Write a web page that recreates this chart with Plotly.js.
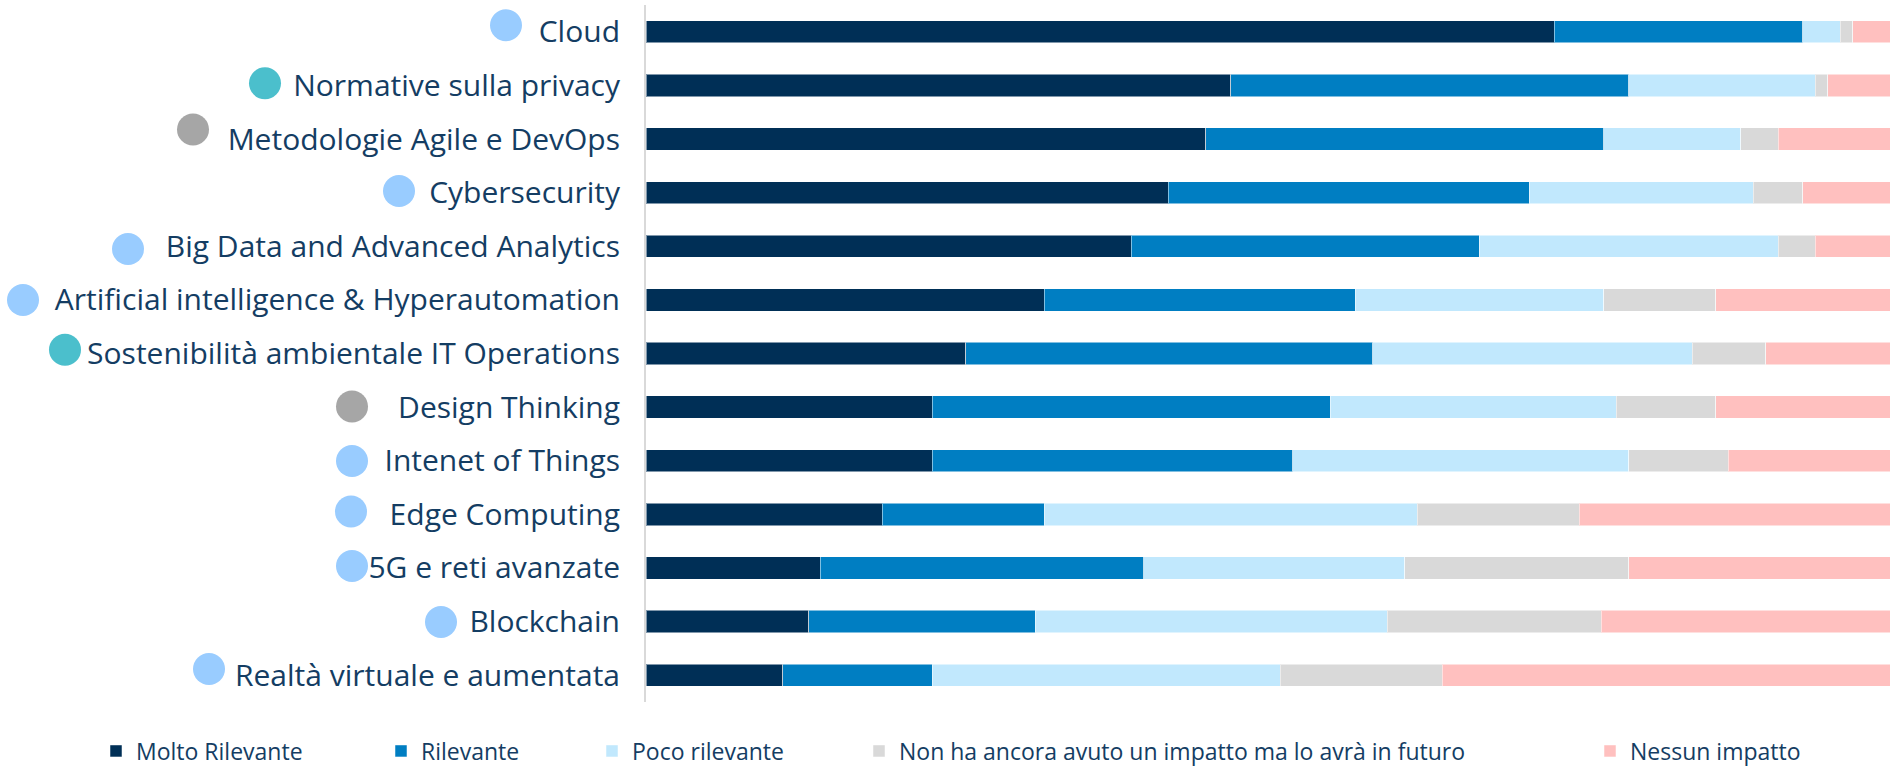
<!DOCTYPE html>
<html>
<head>
<meta charset="utf-8">
<script src="https://cdn.plot.ly/plotly-3.0.1.min.js"></script>
<style>
  html, body { margin: 0; padding: 0; background: #ffffff; }
  #chart { width: 1890px; height: 767px; }
</style>
</head>
<body>
<div id="chart"></div>
<script>
// ---- Data ----
const categories = [
  "Cloud",
  "Normative sulla privacy",
  "Metodologie Agile e DevOps",
  "Cybersecurity",
  "Big Data and Advanced Analytics",
  "Artificial intelligence & Hyperautomation",
  "Sostenibilità ambientale IT Operations",
  "Design Thinking",
  "Intenet of Things",
  "Edge Computing",
  "5G e reti avanzate",
  "Blockchain",
  "Realtà virtuale e aumentata"
];
const seriesNames = [
  "Molto Rilevante",
  "Rilevante",
  "Poco rilevante",
  "Non ha ancora avuto un impatto ma lo avrà in futuro",
  "Nessun impatto"
];
const moltoRilevante = [73, 47, 45, 42, 39, 32, 25.7, 23, 23, 19, 14, 13.1, 11];
const rilevante      = [20, 32, 32, 29, 28, 25, 32.7, 32, 29, 13, 26, 18.2, 12];
const pocoRilevante  = [3, 15, 11, 18, 24, 20, 25.7, 23, 27, 30, 21, 28.3, 28];
const nonAncora      = [1, 1, 3, 4, 3, 9, 5.9, 8, 8, 13, 18, 17.2, 13];
const nessunImpatto  = [3, 5, 9, 7, 6, 14, 10, 14, 13, 25, 21, 23.2, 36];
// category group of each technology (drives the dot colour)
const categoryGroup = ["tech","reg","method","tech","tech","tech","reg","method","tech","tech","tech","tech","tech"];

// ---- Styles ----
const seriesColors = ["#002f56", "#007ec2", "#c1e8fd", "#d9d9d9", "#ffc0bf"];
const groupColors = { tech: "#99ccff", reg: "#4bbfcc", method: "#a6a6a6" };
const textColor = "#143d63";

// ---- Layout geometry (pixels) ----
const W = 1890, H = 767;
const M = { l: 646, r: 0, t: 5, b: 65, autoexpand: false };
const plotW = W - M.l - M.r, plotH = H - M.t - M.b;
// decorative dot centres (pixels, in figure coordinates)
const dotPos = [
  [506, 25.3], [265, 83.3], [193, 129.5], [399, 191], [128, 249],
  [23, 300], [65, 349.7], [352, 406.5], [352, 461], [351, 511.5],
  [352, 566], [441, 622], [209, 669]
];
const dotR = 16;
const legendSymLeft = [113, 398, 609, 876, 1607];
const legendY = 751;

const allValues = [moltoRilevante, rilevante, pocoRilevante, nonAncora, nessunImpatto];
const traces = allValues.map((vals, i) => ({
  type: "bar",
  orientation: "h",
  name: seriesNames[i],
  x: vals,
  y: categories,
  marker: { color: seriesColors[i], line: { color: "rgba(255,255,255,0.5)", width: 1 } },
  legend: i === 0 ? "legend" : "legend" + (i + 1),
  hoverinfo: "x+name"
}));

function px2paperX(px) { return (px - M.l) / plotW; }
function px2paperY(py) { return (H - M.b - py) / plotH; }

const shapes = dotPos.map((p, i) => ({
  type: "circle",
  xref: "paper", yref: "paper",
  x0: px2paperX(p[0] - dotR), x1: px2paperX(p[0] + dotR),
  y0: px2paperY(p[1] + dotR), y1: px2paperY(p[1] - dotR),
  fillcolor: groupColors[categoryGroup[i]],
  line: { width: 0 }
}));

const legendFont = { family: "Open Sans, sans-serif", size: 23, color: textColor };
const layout = {
  width: W, height: H,
  margin: M,
  paper_bgcolor: "#ffffff",
  plot_bgcolor: "#ffffff",
  barmode: "stack",
  bargap: 0.584,
  showlegend: true,
  xaxis: { range: [0, 100], visible: false, fixedrange: true },
  yaxis: {
    type: "category",
    autorange: "reversed",
    automargin: false,
    showline: true, linecolor: "#d9d9d9", linewidth: 2,
    showgrid: false, zeroline: false, ticks: "",
    ticklabelstandoff: 18,
    tickfont: { family: "Open Sans, sans-serif", size: 30, color: textColor },
    fixedrange: true
  },
  shapes: shapes
};
legendSymLeft.forEach((sx, i) => {
  const key = i === 0 ? "legend" : "legend" + (i + 1);
  layout[key] = {
    orientation: "h",
    x: px2paperX(sx - 17), xanchor: "left",
    y: px2paperY(legendY), yanchor: "middle",
    font: legendFont,
    bgcolor: "rgba(0,0,0,0)",
    borderwidth: 0
  };
});

Plotly.newPlot("chart", traces, layout, { displayModeBar: false, staticPlot: true });
</script>
</body>
</html>
